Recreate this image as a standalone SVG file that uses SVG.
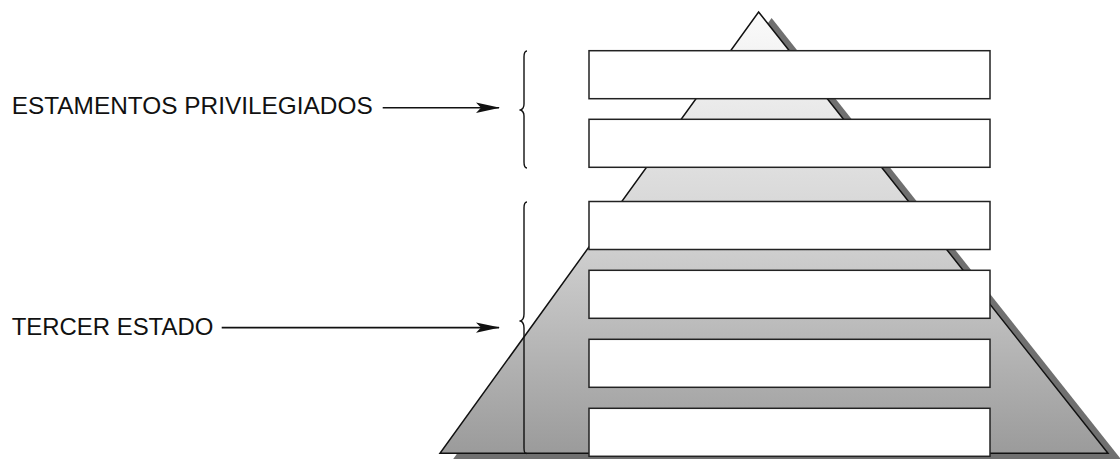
<svg xmlns="http://www.w3.org/2000/svg" width="1120" height="459" viewBox="0 0 1120 459">
  <style>
    .label { font-family: "Liberation Sans", Arial, sans-serif; font-size: 24.5px; fill: #111; }
    .band { fill: #ffffff; stroke: #222; stroke-width: 1.5; }
    .brace { fill: none; stroke: #111; stroke-width: 1.4; }
    .conn { fill: none; stroke: #111; stroke-width: 1.6; }
  </style>
  <defs>
    <linearGradient id="pyrFill" x1="0" y1="12" x2="0" y2="453" gradientUnits="userSpaceOnUse">
      <stop offset="0" stop-color="#fbfbfb"/>
      <stop offset="0.5" stop-color="#d3d3d3"/>
      <stop offset="1" stop-color="#9b9b9b"/>
    </linearGradient>
    <marker id="arrow" viewBox="0 0 24 12" refX="23" refY="6" markerWidth="24" markerHeight="12" markerUnits="userSpaceOnUse" orient="auto">
      <path d="M0,0.8 L24,6 L0,11.2 L5,6 Z" fill="#111"/>
    </marker>
  </defs>

  <g id="pyramid">
    <polygon points="771.6,18 1121,459.3 453,459.3" fill="#707070"/>
    <polygon points="758.6,12 1108,453.3 440,453.3" fill="url(#pyrFill)" stroke="#111" stroke-width="1.5" stroke-linejoin="miter"/>
  </g>

  <g id="brace-privilegiados">
    <path class="brace" d="M527,51 C524.5,51 524,53 524,57 L524,104 C524,107.5 523,109 520.5,110 C523,111 524,112.5 524,116 L524,162 C524,166 524.5,168 527,168"/>
  </g>
  <g id="brace-tercer">
    <path class="brace" d="M527,202 C524.5,202 524,204 524,208 L524,314 C524,318 523,320 520.5,321 C523,322 524,324 524,328 L524,448 C524,452 524.5,453.5 527,453.5"/>
  </g>

  <g id="band-1"><rect class="band" x="589" y="50.7" width="401" height="48"/></g>
  <g id="band-2"><rect class="band" x="589" y="119.3" width="401" height="48"/></g>
  <g id="band-3"><rect class="band" x="589" y="201.5" width="401" height="48"/></g>
  <g id="band-4"><rect class="band" x="589" y="270.3" width="401" height="48"/></g>
  <g id="band-5"><rect class="band" x="589" y="339.3" width="401" height="48"/></g>
  <g id="band-6"><rect class="band" x="589" y="408.3" width="401" height="48"/></g>

  <g id="connectors">
    <line class="conn" x1="382.7" y1="107.7" x2="499" y2="107.7" marker-end="url(#arrow)"/>
    <line class="conn" x1="221.7" y1="327.6" x2="499" y2="327.6" marker-end="url(#arrow)"/>
  </g>

  <g id="label-privilegiados">
    <text class="label" x="11.7" y="114.3" textLength="361" lengthAdjust="spacingAndGlyphs">ESTAMENTOS PRIVILEGIADOS</text>
  </g>
  <g id="label-tercer">
    <text class="label" x="11.7" y="335" textLength="201.6" lengthAdjust="spacingAndGlyphs">TERCER ESTADO</text>
  </g>
</svg>
